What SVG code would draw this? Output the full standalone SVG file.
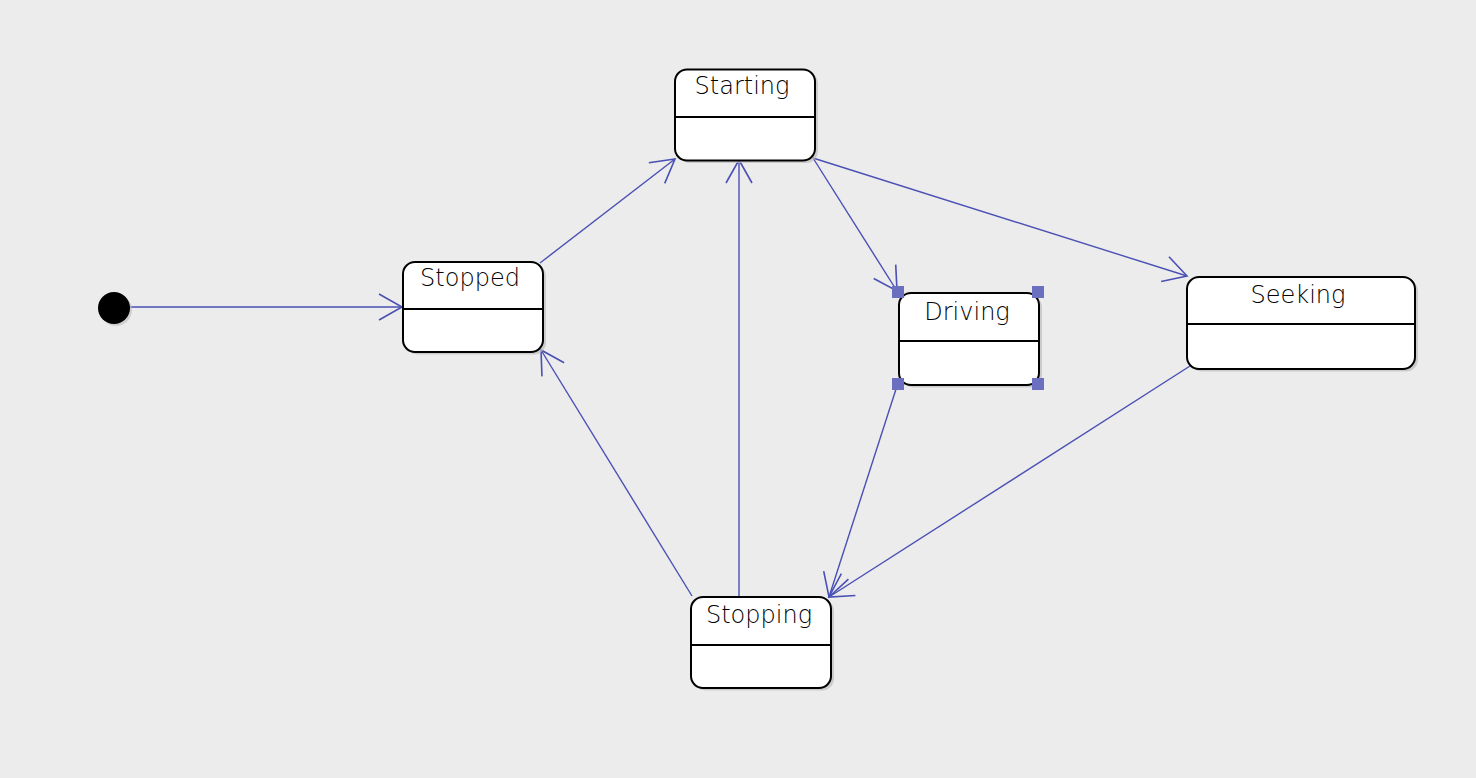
<svg xmlns="http://www.w3.org/2000/svg" width="1476" height="778" viewBox="0 0 1476 778">
<defs>
<style>
.shadow{fill:#bdbdbd;opacity:0.7}
.box{fill:#ffffff;stroke:#000000;stroke-width:2}
.div{stroke:#000000;stroke-width:2}
.label{font-family:"DejaVu Sans",sans-serif;font-weight:200;font-size:24px;fill:#000000;text-anchor:middle}
.edge{stroke:#4a50b4;stroke-width:1.4;fill:none}
.handle{fill:#6b6fbf}
</style>
<marker id="open" viewBox="0 0 30 30" refX="28" refY="15" markerWidth="30" markerHeight="30" markerUnits="userSpaceOnUse" orient="auto">
<path d="M5,2 L28,15 L5,28" fill="none" stroke="#4a50b4" stroke-width="1.6"/>
</marker>
</defs>
<rect width="1476" height="778" fill="#ececec"/>
<g id="connectors">
<line class="edge" x1="130" y1="307" x2="402" y2="307" marker-end="url(#open)"/>
<line class="edge" x1="540" y1="263" x2="675" y2="159" marker-end="url(#open)"/>
<line class="edge" x1="739" y1="597" x2="739" y2="160" marker-end="url(#open)"/>
<line class="edge" x1="813" y1="158" x2="897" y2="291" marker-end="url(#open)"/>
<line class="edge" x1="813" y1="158" x2="1187" y2="276" marker-end="url(#open)"/>
<line class="edge" x1="897" y1="386" x2="829" y2="597" marker-end="url(#open)"/>
<line class="edge" x1="1190" y1="366" x2="829" y2="597" marker-end="url(#open)"/>
<line class="edge" x1="692" y1="596" x2="541" y2="350" marker-end="url(#open)"/>
</g>
<g id="initial">
<circle cx="116" cy="310" r="16" fill="#bdbdbd" opacity="0.6"/>
<circle cx="114" cy="308" r="16" fill="#000000"/>
</g>
<g id="starting">
<rect class="shadow" x="678" y="72" width="140" height="91" rx="12"/>
<rect class="box" x="675" y="69.5" width="140" height="91" rx="12"/>
<line class="div" x1="675" y1="117" x2="815" y2="117"/>
<text class="label" x="742" y="94">Starting</text>
</g>
<g id="stopped">
<rect class="shadow" x="406" y="264.5" width="140" height="90" rx="12"/>
<rect class="box" x="403" y="262" width="140" height="90" rx="12"/>
<line class="div" x1="403" y1="309" x2="543" y2="309"/>
<text class="label" x="470" y="286">Stopped</text>
</g>
<g id="driving">
<rect class="shadow" x="902" y="295.5" width="140" height="92" rx="12"/>
<rect class="box" x="899" y="293" width="140" height="92" rx="12"/>
<line class="div" x1="899" y1="341" x2="1039" y2="341"/>
<text class="label" x="967" y="320">Driving</text>
<rect class="handle" x="892" y="286" width="12" height="12"/>
<rect class="handle" x="1032" y="286" width="12" height="12"/>
<rect class="handle" x="892" y="378" width="12" height="12"/>
<rect class="handle" x="1032" y="378" width="12" height="12"/>
</g>
<g id="seeking">
<rect class="shadow" x="1190" y="279.5" width="228" height="92" rx="12"/>
<rect class="box" x="1187" y="277" width="228" height="92" rx="12"/>
<line class="div" x1="1187" y1="324" x2="1415" y2="324"/>
<text class="label" x="1298" y="303">Seeking</text>
</g>
<g id="stopping">
<rect class="shadow" x="694" y="599.5" width="140" height="91" rx="12"/>
<rect class="box" x="691" y="597" width="140" height="91" rx="12"/>
<line class="div" x1="691" y1="645" x2="831" y2="645"/>
<text class="label" x="759" y="623">Stopping</text>
</g>
</svg>
